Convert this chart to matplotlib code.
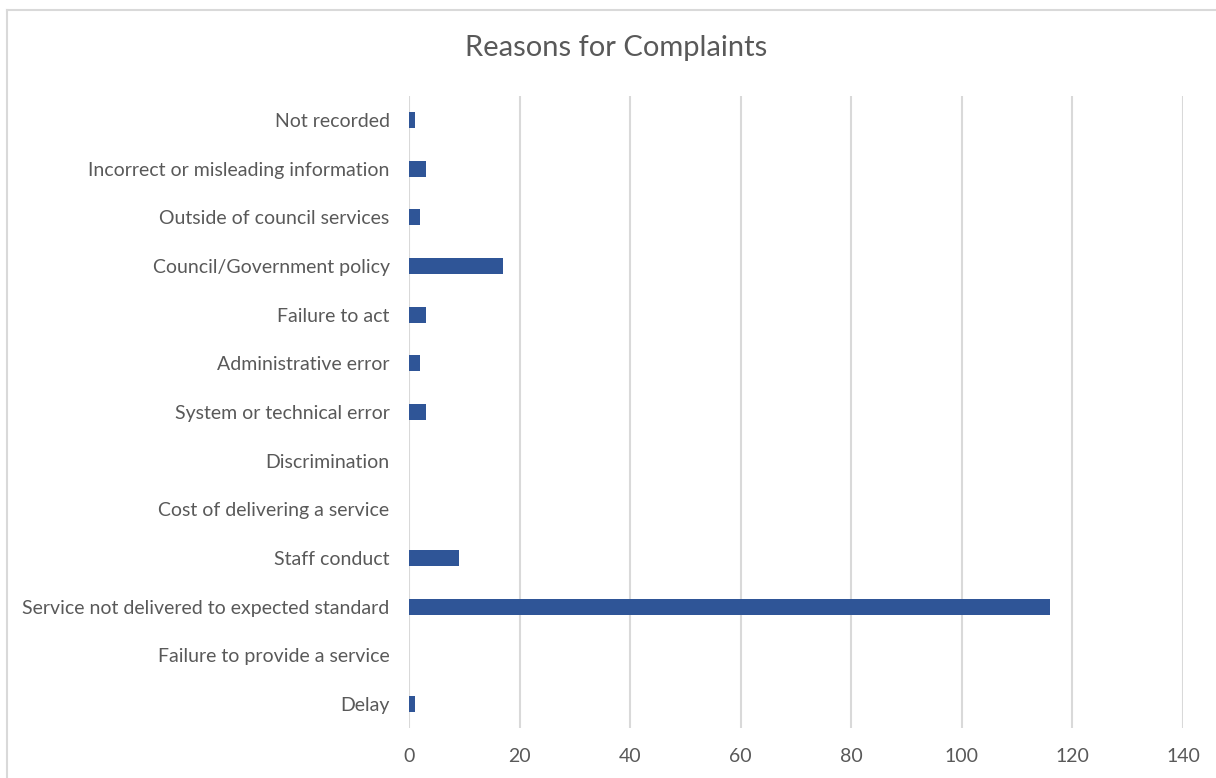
# Reasons for Complaints - horizontal bar chart
import matplotlib as mpl
import matplotlib.pyplot as plt
from matplotlib.lines import Line2D

categories = [
    "Delay",
    "Failure to provide a service",
    "Service not delivered to expected standard",
    "Staff conduct",
    "Cost of delivering a service",
    "Discrimination",
    "System or technical error",
    "Administrative error",
    "Failure to act",
    "Council/Government policy",
    "Outside of council services",
    "Incorrect or misleading information",
    "Not recorded",
]
counts = [1, 0, 116, 9, 0, 0, 3, 2, 3, 17, 2, 3, 1]
xtick_values = [0, 20, 40, 60, 80, 100, 120, 140]

mpl.use("Agg")
plt.rcParams["font.family"] = ["Lato", "DejaVu Sans"]
text_col = "#595959"
grid_col = "#d9d9d9"
bar_col = "#2f5597"

fig = plt.figure(figsize=(12.16, 7.78), dpi=100)
ax = fig.add_axes([409 / 1216, 1 - 728.3 / 778, (1183 - 409) / 1216, (728.3 - 95.7) / 778])

ax.barh(range(len(categories)), counts, height=0.33, color=bar_col)

ax.set_xlim([0, 140])
ax.set_ylim([-0.5, len(categories) - 0.5])
ax.set_xticks(xtick_values)
ax.set_yticks(range(len(categories)))
ax.set_yticklabels(categories)
ax.tick_params(axis="both", length=0, labelsize=14, colors=text_col)
ax.tick_params(axis="x", pad=14)
ax.tick_params(axis="y", pad=14)
ax.grid(axis="x", color=grid_col, linewidth=1.5)
ax.set_axisbelow(True)
for s in ax.spines.values():
    s.set_visible(False)

fig.text(616 / 1216, 1 - 48 / 778, "Reasons for Complaints", ha="center", va="center",
         fontsize=21, color=text_col)

# chart area border (Excel style, clipped by the image edges)
fig.add_artist(Line2D([7 / 1216, 7 / 1216], [0, 1 - 10 / 778], color=grid_col, linewidth=1.5))
fig.add_artist(Line2D([7 / 1216, 1], [1 - 10 / 778, 1 - 10 / 778], color=grid_col, linewidth=1.5))

fig.savefig("out.png", dpi=100, facecolor="white")
